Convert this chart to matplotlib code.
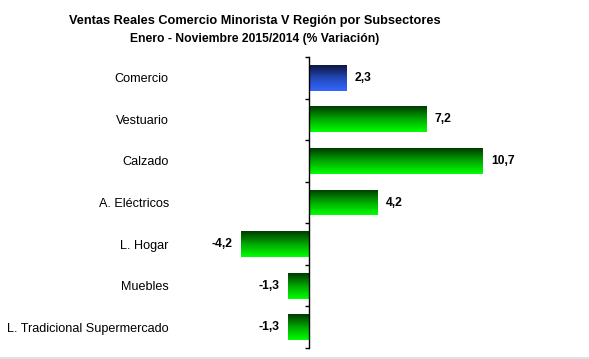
import matplotlib.pyplot as plt
import numpy as np
from matplotlib.colors import LinearSegmentedColormap
from matplotlib.lines import Line2D

plt.rcParams['font.family'] = ['Liberation Sans', 'DejaVu Sans']

categories = ['Comercio', 'Vestuario', 'Calzado', 'A. Eléctricos', 'L. Hogar',
              'Muebles', 'L. Tradicional Supermercado']
values = [2.3, 7.2, 10.7, 4.2, -4.2, -1.3, -1.3]
value_labels = ['2,3', '7,2', '10,7', '4,2', '-4,2', '-1,3', '-1,3']

green = LinearSegmentedColormap.from_list('g', ['#003a00', '#00a800', '#00ff00'])
blue = LinearSegmentedColormap.from_list('b', ['#0d1640', '#2448b8', '#3366ff'])

fig = plt.figure(figsize=(5.89, 3.59), dpi=100)
ax = fig.add_axes([179 / 589, 1 - 348 / 359, 382 / 589, 291 / 359])

ypos = np.arange(len(categories))
bars = ax.barh(ypos, values, height=0.62, color='none', edgecolor='none')
grad = np.linspace(0, 1, 64).reshape(-1, 1)
for i, b in enumerate(bars):
    x0, y0 = b.get_x(), b.get_y()
    w, h = b.get_width(), b.get_height()
    cmap = blue if i == 0 else green
    im = ax.imshow(grad, cmap=cmap, aspect='auto', interpolation='bicubic',
                   extent=[x0, x0 + w, y0 + h, y0], zorder=2)
    im.set_clip_path(b)

for y, v, lab in zip(ypos, values, value_labels):
    off = 0.5 if v >= 0 else -0.5
    ax.text(v + off, y, lab, ha='left' if v >= 0 else 'right', va='center',
            fontsize=8.7, fontweight='bold', color='black')

ax.set_xlim(-8, 15.5)
ax.set_ylim(len(categories) - 0.5, -0.5)

for s in ['top', 'right', 'bottom']:
    ax.spines[s].set_visible(False)
ax.spines['left'].set_position(('data', 0))
ax.spines['left'].set_linewidth(1.0)
ax.set_xticks([])
ax.set_yticks(ypos)
ax.set_yticklabels(categories, fontsize=9.1)
ax.tick_params(axis='y', which='major', length=0, pad=101)
ax.set_yticks(np.arange(-0.5, len(categories)), minor=True)
ax.tick_params(axis='y', which='minor', length=3, width=1, direction='out')

fig.text(0.432, 0.942, 'Ventas Reales Comercio Minorista V Región por Subsectores',
         ha='center', va='center', fontsize=9.2, fontweight='bold')
fig.text(0.432, 0.892, 'Enero - Noviembre 2015/2014 (% Variación)',
         ha='center', va='center', fontsize=8.7, fontweight='bold')

fig.add_artist(Line2D([0, 1], [1 - 357.5 / 359] * 2, transform=fig.transFigure,
                      color='#e0e0e0', lw=1.5))

fig.savefig('out.png', dpi=100)
